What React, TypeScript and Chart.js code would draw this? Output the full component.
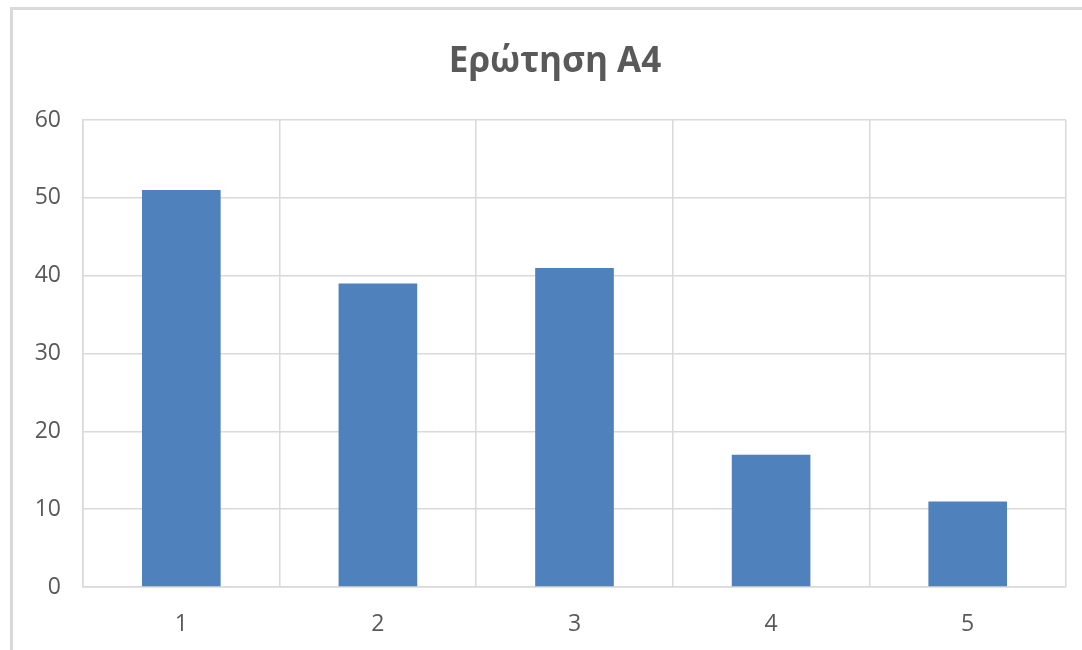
import React, { useEffect, useRef } from "react";
import { Chart, registerables } from "chart.js";

Chart.register(...registerables);

const categories = ["1", "2", "3", "4", "5"];
const values = [51, 39, 41, 17, 11];
const titleText = "Ερώτηση Α4";

const FONT = "'Open Sans', sans-serif";
const TEXT = "#595959";
const GRID = "#d9d9d9";

const titlePlugin = {
  id: "customTitle",
  afterDraw(chart: any) {
    const ctx = chart.ctx;
    ctx.save();
    ctx.font = `bold 35px ${FONT}`;
    ctx.fillStyle = TEXT;
    ctx.textAlign = "center";
    ctx.textBaseline = "alphabetic";
    ctx.fillText(titleText, 555, 72);
    ctx.restore();
  },
};

export default function App() {
  const ref = useRef<HTMLCanvasElement | null>(null);
  useEffect(() => {
    if (!ref.current) return;
    const chart = new Chart(ref.current, {
      type: "bar",
      data: {
        labels: categories,
        datasets: [
          {
            data: values,
            backgroundColor: "#4F81BD",
            borderWidth: 0,
            categoryPercentage: 1,
            barPercentage: 0.4,
          },
        ],
      },
      options: {
        animation: false,
        responsive: false,
        maintainAspectRatio: false,
        layout: { padding: { top: 120, right: 16, left: 0, bottom: 0 } },
        plugins: { legend: { display: false }, tooltip: { enabled: false }, title: { display: false } },
        scales: {
          x: {
            grid: { color: GRID, lineWidth: 1.5, drawTicks: false, offset: true },
            border: { color: GRID, width: 1.5 },
            ticks: { color: TEXT, font: { family: FONT, size: 23 }, padding: 24 },
            afterFit(scale: any) {
              scale.height = 63;
            },
          },
          y: {
            min: 0,
            max: 60,
            ticks: { stepSize: 10, color: TEXT, font: { family: FONT, size: 23 }, padding: 22 },
            grid: { color: GRID, lineWidth: 1.5, drawTicks: false },
            border: { color: GRID, width: 1.5 },
            afterFit(scale: any) {
              scale.width = 83;
            },
          },
        },
      },
      plugins: [titlePlugin],
    });
    return () => chart.destroy();
  }, []);
  return (
    <div
      style={{
        position: "fixed",
        left: 0,
        top: 0,
        width: 1082,
        height: 650,
        overflow: "hidden",
        background: "#fff",
      }}
    >
      <div
        style={{
          position: "absolute",
          left: 10,
          top: 7,
          width: 1120,
          height: 700,
          border: "3px solid #d9d9d9",
          boxSizing: "border-box",
        }}
      />
      <canvas
        ref={ref}
        width={1082}
        height={650}
        style={{ position: "absolute", left: 0, top: 0, width: 1082, height: 650 }}
      />
    </div>
  );
}
